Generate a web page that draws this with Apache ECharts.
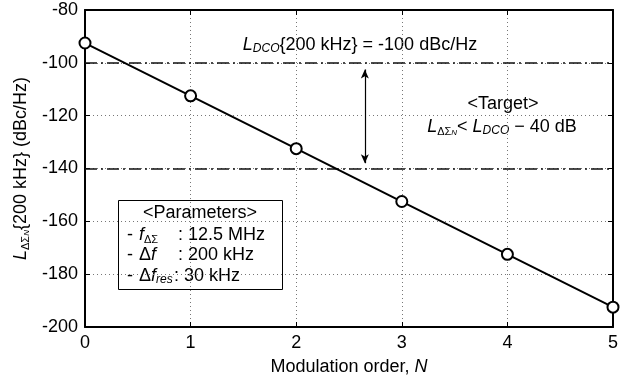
<!DOCTYPE html>
<html>
<head>
<meta charset="utf-8">
<script src="https://cdn.jsdelivr.net/npm/echarts@6/dist/echarts.min.js"></script>
<style>
  html, body { margin: 0; padding: 0; background: #fff; }
  #chart { width: 626px; height: 376px; }
</style>
</head>
<body>
<div id="chart"></div>
<script>
// data
const orders = [0, 1, 2, 3, 4, 5];
const noiseLevel = [-92.5, -112.5, -132.5, -152.5, -172.5, -192.5];
const dcoLevel = -100;      // L_DCO{200 kHz}
const targetLevel = -140;   // L_DCO - 40 dB
const arrowX = 2.65;
const arrowEnds = [-102.5, -138];
const yRange = [-200, -80];
const xRange = [0, 5];

const FONT = '"Liberation Sans", Arial, sans-serif';
const FS = 18;

const chart = echarts.init(document.getElementById('chart'));

// base style for plain text + rich tokens for italics and subscripts
const base = { fontSize: FS, fontFamily: FONT, color: '#000', lineHeight: 20 };
const rich = {
  it: { fontStyle: 'italic', fontSize: FS, fontFamily: FONT, color: '#000', lineHeight: 20 },
  sub: { fontSize: 11, fontFamily: FONT, color: '#000', lineHeight: 11, verticalAlign: 'bottom' },
  subi: { fontSize: 12, fontStyle: 'italic', fontFamily: FONT, color: '#000', lineHeight: 12, verticalAlign: 'bottom' },
  subsub: { fontSize: 8, fontStyle: 'italic', fontFamily: FONT, color: '#000', lineHeight: 7, verticalAlign: 'bottom' }
};

function txt(x, y, text, align) {
  return {
    type: 'text', x: x, y: y,
    style: Object.assign({ text: text, rich: rich, align: align || 'left', verticalAlign: 'middle' }, base)
  };
}

function frameAxis(pos) {
  const isX = pos === 'top';
  return {
    type: 'value',
    position: pos,
    min: isX ? xRange[0] : yRange[0],
    max: isX ? xRange[1] : yRange[1],
    interval: isX ? 1 : 20,
    axisLine: { show: true, onZero: false, lineStyle: { color: '#000', width: 2 } },
    axisTick: { show: true, inside: true, length: 5, lineStyle: { color: '#000' } },
    axisLabel: { show: false },
    splitLine: { show: false }
  };
}

const option = {
  animation: false,
  grid: { left: 85, right: 13, top: 10, bottom: 49, containLabel: false, outerBoundsMode: 'none' },
  xAxis: [
    {
      type: 'value',
      min: xRange[0],
      max: xRange[1],
      interval: 1,
      name: 'Modulation order, {it|N}',
      nameLocation: 'middle',
      nameGap: 26,
      nameTextStyle: Object.assign({ rich: rich }, base),
      axisLine: { show: true, onZero: false, lineStyle: { color: '#000', width: 2 } },
      axisTick: { show: true, inside: true, length: 5, lineStyle: { color: '#000' } },
      axisLabel: { color: '#000', fontSize: FS, fontFamily: FONT, margin: 7 },
      splitLine: { show: true, lineStyle: { color: '#777', width: 1, type: [1, 3] } }
    },
    frameAxis('top')
  ],
  yAxis: [
    {
      type: 'value',
      min: yRange[0],
      max: yRange[1],
      interval: 20,
      name: '{it|L}{sub|ΔΣ}{subsub|N}{200 kHz} (dBc/Hz)',
      nameLocation: 'middle',
      nameRotate: 90,
      nameGap: 53,
      nameTextStyle: Object.assign({ rich: rich }, base),
      axisLine: { show: true, onZero: false, lineStyle: { color: '#000', width: 2 } },
      axisTick: { show: true, inside: true, length: 5, lineStyle: { color: '#000' } },
      axisLabel: { color: '#000', fontSize: FS, fontFamily: FONT, margin: 7 },
      splitLine: { show: true, lineStyle: { color: '#777', width: 1, type: [1, 3] } }
    },
    frameAxis('right')
  ],
  series: [
    {
      type: 'line',
      data: orders.map((n, i) => [n, noiseLevel[i]]),
      clip: false,
      symbol: 'emptyCircle',
      symbolSize: 11,
      lineStyle: { color: '#000', width: 2 },
      itemStyle: { color: '#000', borderColor: '#000', borderWidth: 2 },
      z: 5,
      markLine: {
        silent: true,
        symbol: 'none',
        label: { show: false },
        lineStyle: { color: '#111', width: 1.6, type: [12, 4, 2, 4] },
        data: [{ yAxis: dcoLevel }, { yAxis: targetLevel }]
      }
    },
    {
      type: 'line',
      data: [],
      markLine: {
        silent: true,
        symbol: ['arrow', 'arrow'],
        symbolSize: [6, 9],
        label: { show: false },
        lineStyle: { color: '#000', width: 1.2, type: 'solid' },
        data: [[{ coord: [arrowX, arrowEnds[0]] }, { coord: [arrowX, arrowEnds[1]] }]]
      }
    }
  ],
  graphic: [
    txt(360, 45, '{it|L}{subi|DCO}{200 kHz} = -100 dBc/Hz', 'center'),
    txt(503, 104, '<Target>', 'center'),
    txt(502, 127, '{it|L}{sub|ΔΣ}{subsub|N}< {it|L}{subi|DCO} − 40 dB', 'center'),
    {
      type: 'group',
      z: 100,
      children: [
        {
          type: 'rect',
          shape: { x: 118.5, y: 200.5, width: 164, height: 89 },
          style: { fill: '#fff', stroke: '#000', lineWidth: 1 }
        },
        txt(200, 213, '<Parameters>', 'center'),
        txt(127, 235, '-'),
        txt(127, 255, '-'),
        txt(127, 276, '-'),
        txt(139, 235, '{it|f}{sub|ΔΣ}'),
        txt(139, 255, 'Δ{it|f}'),
        txt(139, 276, 'Δ{it|f}{subi|res}'),
        txt(178, 235, ': 12.5 MHz'),
        txt(178, 255, ': 200 kHz'),
        txt(174, 276, ': 30 kHz')
      ]
    }
  ]
};

chart.setOption(option);
</script>
</body>
</html>
